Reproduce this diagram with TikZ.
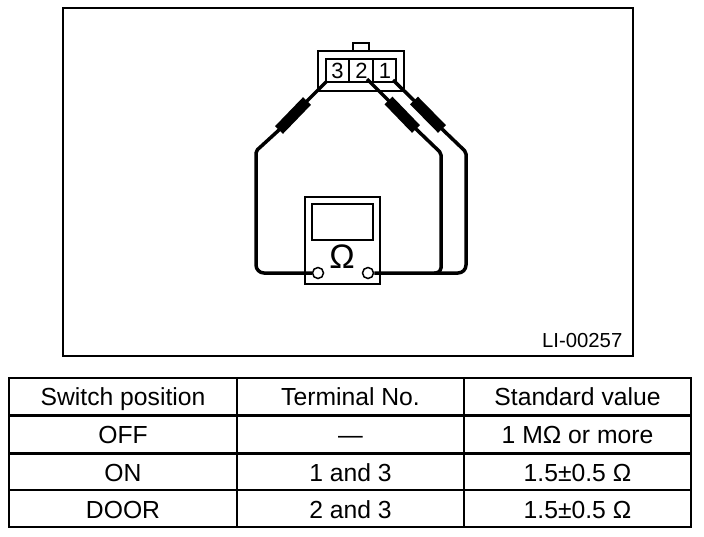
\documentclass[tikz,border=0pt]{standalone}
\usepackage{fontspec}
\setmainfont{Liberation Sans}
\usepackage{tikz}

\tikzset{
	wire/.style={line width=3.5pt,line join=round},
	sleeve/.style={line width=11pt},
	rule/.style={line width=2pt},
	heavyrule/.style={line width=3pt},
	cell/.style={font=\fontsize{24.7}{26}\selectfont,inner sep=0pt,anchor=base},
	pinlabel/.style={font=\fontsize{22}{24}\selectfont,inner sep=0pt,anchor=base},
}

\begin{document}
\begin{tikzpicture}[x=1pt,y=-1pt]
	\useasboundingbox (0,0) rectangle (704,536);
	% drawing frame
	\node[draw,rule,minimum width=570pt,minimum height=348pt,inner sep=0pt,outer sep=0pt,anchor=north west] (frame) at (63,8) {};
	\node[font=\fontsize{20.3}{22}\selectfont,inner sep=0pt,anchor=base east] (code) at (622.5,347.5) {LI-00257};

	% connector
	\draw[rule] (353,51) -- (353,43) -- (369,43) -- (369,51);
	\node[draw,rule,minimum width=86pt,minimum height=40pt,inner sep=0pt,outer sep=0pt] (housing) at (361,71) {};
	\draw[line width=2.5pt] (326,82) rectangle (396,59);
	\draw[line width=1.5pt] (349,59) -- (349,82);
	\draw[line width=1.5pt] (373,59) -- (373,82);
	\node[pinlabel] (t3) at (337.5,78) {3};
	\node[pinlabel] (t2) at (361.5,78) {2};
	\node[pinlabel] (t1) at (385,78) {1};

	% meter
	\node[draw,rule,minimum width=75pt,minimum height=87pt,inner sep=0pt,outer sep=0pt] (meter) at (342.5,240.5) {};
	\node[draw,rule,minimum width=61pt,minimum height=36pt,inner sep=0pt,outer sep=0pt] (screen) at (342.5,222) {};
	\node[inner sep=0pt,font=\fontsize{34}{36}\selectfont] (ohm) at (342,257) {Ω};
	\node[draw,circle,line width=1.5pt,minimum size=11pt,inner sep=0pt] (jackl) at (318,273) {};
	\node[draw,circle,line width=1.5pt,minimum size=11pt,inner sep=0pt] (jackr) at (368,273) {};

	% test leads
	\coordinate (pin3) at (327,81);
	\coordinate (pin2) at (367,79);
	\coordinate (pin1) at (393,80);
	\coordinate (a3) at (307,101);
	\coordinate (b3) at (279,130);
	\coordinate (a2) at (388.5,100.5);
	\coordinate (b2) at (416,129);
	\coordinate (a1) at (414,100.5);
	\coordinate (b1) at (442,129);
	\draw[wire] (pin3) -- (a3) -- (b3) [rounded corners=2pt] -- (256,151) -- (256,200) [rounded corners=8pt] -- (256,273) -- (jackl);
	\draw[wire] (pin2) -- (a2) -- (b2) [rounded corners=2pt] -- (441,153) -- (441,200) [rounded corners=5pt] -- (441,273) -- (434,273);
	\draw[wire] (pin1) -- (a1) -- (b1) [rounded corners=2pt] -- (466,152) -- (466,200) [rounded corners=8pt] -- (466,273) -- (jackr);
	\draw[sleeve] (a3) -- (b3);
	\draw[sleeve] (a2) -- (b2);
	\draw[sleeve] (a1) -- (b1);

	% table
	\draw[rule] (9,378) rectangle (691,527);
	\draw[rule] (237,378) -- (237,527);
	\draw[rule] (464,378) -- (464,527);
	\draw[heavyrule] (9,415) -- (691,415);
	\draw[heavyrule] (9,453) -- (691,453);
	\draw[rule] (9,490) -- (691,490);
	\begin{scope}[every node/.style={cell}]
		\node (head1) at (123,405.5) {Switch position};
		\node (head2) at (350.5,405.5) {Terminal No.};
		\node (head3) at (577.5,405.5) {Standard value};
		\node (off) at (123,443.5) {OFF};
		\node (offterm) at (350.5,443.5) {—};
		\node (offval) at (577.5,443.5) {1 MΩ or more};
		\node (on) at (123,481) {ON};
		\node (onterm) at (350.5,481) {1 and 3};
		\node (onval) at (577.5,481) {1.5±0.5 Ω};
		\node (door) at (123,518.5) {DOOR};
		\node (doorterm) at (350.5,518.5) {2 and 3};
		\node (doorval) at (577.5,518.5) {1.5±0.5 Ω};
	\end{scope}
\end{tikzpicture}
\end{document}
